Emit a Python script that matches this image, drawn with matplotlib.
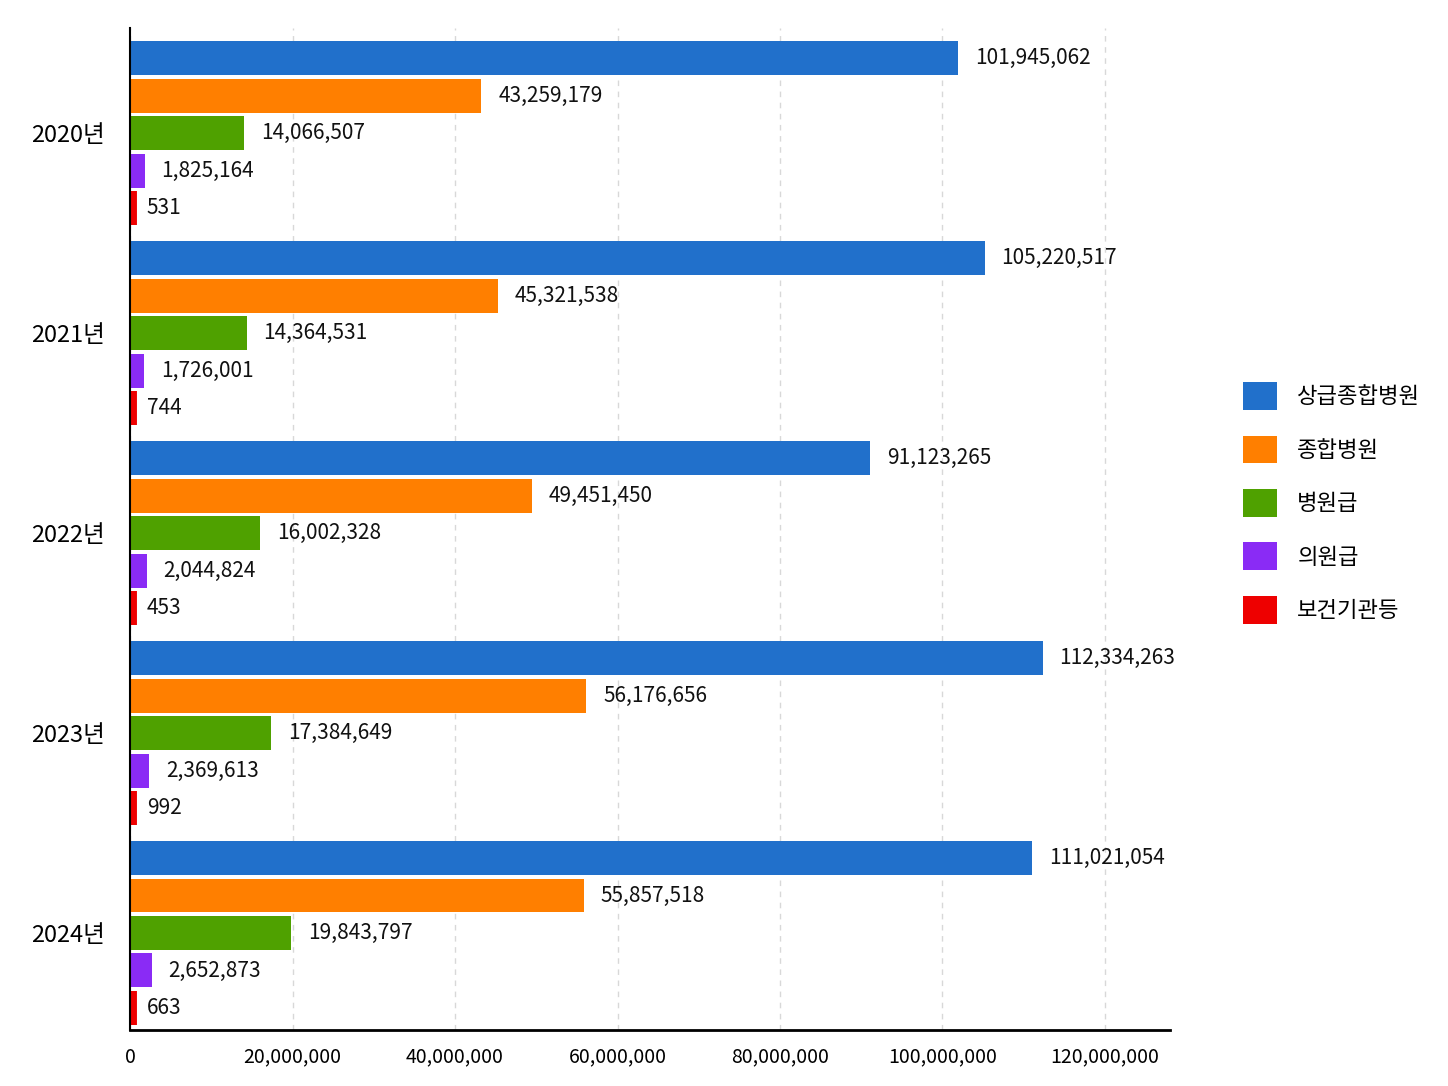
import numpy as np
import matplotlib.pyplot as plt

plt.rcParams['font.family'] = ['Noto Sans CJK KR', 'DejaVu Sans']
plt.rcParams['font.weight'] = 'medium'

years = ['2020년', '2021년', '2022년', '2023년', '2024년']
categories = ['상급종합병원', '종합병원', '병원급', '의원급', '보건기관등']
colors = ['#2170CB', '#FF7F00', '#4FA100', '#8A2BF5', '#EE0000']

tertiary = [101945062, 105220517, 91123265, 112334263, 111021054]
general = [43259179, 45321538, 49451450, 56176656, 55857518]
hospital = [14066507, 14364531, 16002328, 17384649, 19843797]
clinic = [1825164, 1726001, 2044824, 2369613, 2652873]
public = [531, 744, 453, 992, 663]
series = [tertiary, general, hospital, clinic, public]

xticks = [0, 20000000, 40000000, 60000000, 80000000, 100000000, 120000000]

fig = plt.figure(figsize=(14.48, 10.86), dpi=100)
ax = fig.add_axes([0.0898, 0.0516, 0.7182, 0.9224])

y = np.arange(len(years))
step = 0.1875
height = 0.17
for i, (name, vals) in enumerate(zip(categories, series)):
    pos = y + (i - 2) * step
    if i == 4:
        # near-zero values: a thick edge keeps them visible as in the source
        ax.barh(pos, vals, height=height, color=colors[i],
                edgecolor=colors[i], linewidth=10, label=name, zorder=3)
    else:
        ax.barh(pos, vals, height=height, color=colors[i], linewidth=0,
                label=name, zorder=3)
    for p, v in zip(pos, vals):
        ax.annotate(f'{v:,}', (v, p), xytext=(12, 0), textcoords='offset points',
                    va='center', ha='left', fontsize=15, color='#111111')

ax.set_ylim(4.485, -0.525)
ax.set_xlim(0, 128000000)
ax.set_yticks(y)
ax.set_yticklabels(years, fontsize=17)
ax.set_xticks(xticks)
ax.set_xticklabels([f'{t:,}' for t in xticks], fontsize=14)
ax.tick_params(axis='both', length=0)
ax.tick_params(axis='x', pad=12)
ax.tick_params(axis='y', pad=18)

ax.grid(True, axis='x', linestyle=(0, (4, 4)), color='#d8d8d8', linewidth=1, zorder=0)
ax.spines['top'].set_visible(False)
ax.spines['right'].set_visible(False)
ax.spines['left'].set_linewidth(1.5)
ax.spines['left'].set_zorder(4)
ax.spines['bottom'].set_linewidth(2)

leg = fig.legend(loc='center left', bbox_to_anchor=(0.8445, 0.537), frameon=False,
                 fontsize=16, handlelength=1.55, handleheight=1.55,
                 labelspacing=1.15, handletextpad=0.9)
for h in leg.legend_handles:
    h.set_linewidth(0)

fig.savefig('out.png', dpi=100, facecolor='white')
